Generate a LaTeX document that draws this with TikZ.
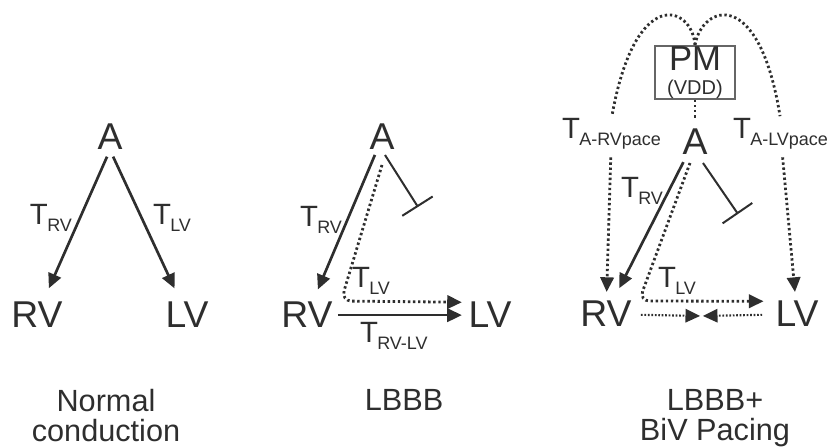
\documentclass[tikz,border=0pt]{standalone}
\usepackage{fontspec}
\setmainfont{Liberation Sans}
\usetikzlibrary{arrows.meta,calc}
\definecolor{ink}{HTML}{2E2E2E}
\definecolor{boxgray}{HTML}{666666}
\newcommand\Tlab[1]{{\fontsize{22}{22}\selectfont T}\kern-0.5pt\raisebox{-5pt}{\fontsize{13.5}{13.5}\selectfont #1}}
\begin{document}
\begin{tikzpicture}[x=0.75pt,y=-0.75pt,
  big/.style={font=\fontsize{28}{28}\selectfont, inner sep=0pt, outer sep=0pt, text=ink, anchor=base},
  lab/.style={inner sep=0pt, outer sep=0pt, anchor=base west, text=ink},
  ttl/.style={font=\fontsize{23}{22.5}\selectfont, align=center, inner sep=0pt, anchor=north, text=ink},
  arr/.style={draw=ink, line width=2pt, -{Triangle[length=11pt,width=10pt]}},
  dotline/.style={draw=ink, line width=2.1pt, dash pattern=on 1.8pt off 2pt},
  darr/.style={dotline, -{Triangle[length=11pt,width=10pt]}},
  sdarr/.style={draw=ink, line width=1.6pt, dash pattern=on 1.3pt off 1.3pt, -{Triangle[length=11pt,width=10pt]}},
  inh/.style={draw=ink, line width=1.5pt, -{Bar[width=27pt,line width=1.5pt]}}
]
\useasboundingbox (0,0) rectangle (833,448);

% ---------- Panel 1 ----------
\node[big] (A1) at (110,150) {A};
\node[big] (RV1) at (37,328) {RV};
\node[big] (LV1) at (187,328) {LV};
\draw[arr, shorten <=5.5pt, shorten >=11.5pt] (A1.south) -- (RV1);
\draw[arr, shorten <=5.5pt, shorten >=11.5pt] (A1.south) -- (LV1);
\node[lab] (TRV1) at (30,225) {\Tlab{RV}};
\node[lab] (TLV1) at (153,225) {\Tlab{LV}};
\node[ttl] (t1) at (106,389) {Normal\\conduction};

% ---------- Panel 2 ----------
\node[big] (A2) at (382,150) {A};
\node[big] (RV2) at (307,328) {RV};
\node[big] (LV2) at (490,328) {LV};
\draw[arr, shorten <=4pt, shorten >=10.5pt] ($(A2.south)+(-5,0)$) -- (RV2);
\coordinate (I2) at (418,207);
\draw[inh] ($(A2.south)+(3,5)$) -- (I2);
\draw[darr, rounded corners=8pt, shorten >=5pt] ($(A2.south)+(0,15)$) -- (341,301) -- (LV2.north west);
\draw[arr, shorten <=4pt, shorten >=5pt] (RV2) -- (LV2);
\node[lab] (TRV2) at (300,227) {\Tlab{RV}};
\node[lab] (TLV2) at (352,288) {\Tlab{LV}};
\node[lab] (TRVLV) at (360,343) {\Tlab{RV-LV}};
\node[ttl] (t2) at (404,389) {LBBB};

% ---------- Panel 3 ----------
\node[draw=boxgray, line width=1.2pt, minimum width=60pt, minimum height=40pt, inner sep=0pt,
      align=center, text=ink, font=\fontsize{15}{17.5}\selectfont] (PM) at (695,72.5)
      {{\fontsize{26}{26}\selectfont PM}\\{\fontsize{15}{17.5}\selectfont (VDD)}};
\node[big] (A3) at (695,155) {A};
\node[big] (RV3) at (606,327) {RV};
\node[big] (LV3) at (797,327) {LV};
\node[lab] (TARV) at (562,139) {\Tlab{A-RVpace}};
\node[lab] (TALV) at (733,139) {\Tlab{A-LVpace}};
\node[lab] (TRV3) at (621,198) {\Tlab{RV}};
\node[lab] (TLV3) at (658,288) {\Tlab{LV}};

\draw[dotline, shorten >=2pt] (PM.north) .. controls (692,5) and (635,-15) .. (TARV.north);
\draw[dotline, shorten >=2pt] (PM.north) .. controls (702,5) and (759,-15) .. (TALV.north);
\draw[dotline, shorten >=7.5pt] (PM) -- (A3);
\draw[darr, shorten <=6pt, shorten >=7pt] (TARV) -- (RV3);
\draw[darr, shorten <=6pt, shorten >=7pt] (TALV) -- (LV3);

\draw[arr, shorten <=6pt, shorten >=11pt] ($(A3.south)+(-8,0)$) -- (RV3);
\coordinate (I3) at (738,214);
\draw[inh] ($(A3.south)+(8,8)$) -- (I3);
\draw[darr, rounded corners=8pt, shorten >=9pt] ($(A3.south)+(-5,8)$) -- (639,301) -- (LV3.north west);

\coordinate (M3) at (701.5,316);
\draw[sdarr, shorten <=7pt, shorten >=1pt] (RV3) -- (M3);
\draw[sdarr, shorten <=10pt, shorten >=1pt] (LV3) -- (M3);
\node[ttl] (t3) at (715,389) {LBBB+\\BiV Pacing};
\end{tikzpicture}
\end{document}
